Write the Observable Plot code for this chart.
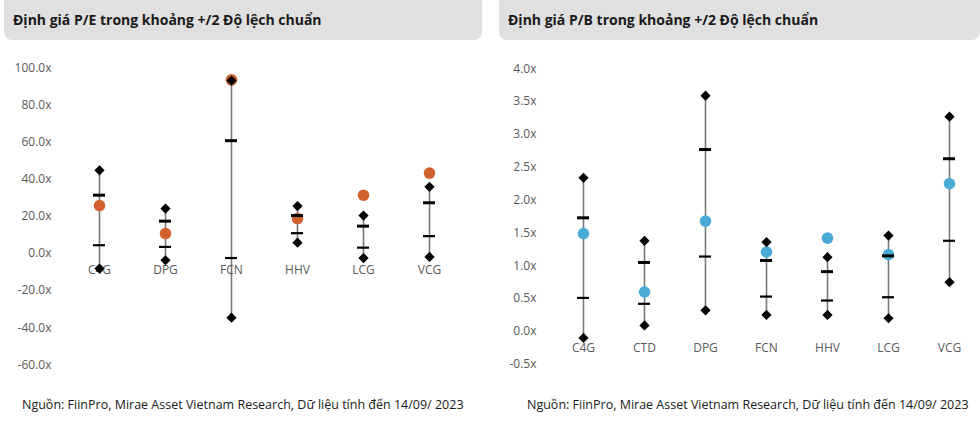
<!DOCTYPE html>
<html>
<head>
<meta charset="utf-8">
<script src="https://cdn.jsdelivr.net/npm/d3@7"></script>
<script src="https://cdn.jsdelivr.net/npm/@observablehq/plot@0.6"></script>
<style>
  html, body { margin: 0; padding: 0; background: #fff; }
  body { width: 980px; height: 425px; position: relative; overflow: hidden; font-family: "Open Sans", sans-serif; }
  .title { position: absolute; top: 0; height: 40px; background: #e0e0e0; border-radius: 0 0 8px 8px;
           font-weight: 700; font-size: 14px; color: #1a1a1a; line-height: 40px; padding-left: 9px; box-sizing: border-box; }
  .chart { position: absolute; top: 45px; }
  .caption { position: absolute; top: 396px; font-size: 12.5px; color: #1a1a1a; white-space: nowrap; }
</style>
</head>
<body>
<div class="title" style="left:4px;width:478px;">Định giá P/E trong khoảng +/2 Độ lệch chuẩn</div>
<div class="title" style="left:499px;width:481px;">Định giá P/B trong khoảng +/2 Độ lệch chuẩn</div>
<div class="chart" id="pe" style="left:0px;"></div>
<div class="chart" id="pb" style="left:490px;"></div>
<div class="caption" id="cap1" style="left:22px;">Nguồn: FiinPro, Mirae Asset Vietnam Research, Dữ liệu tính đến 14/09/ 2023</div>
<div class="caption" id="cap2" style="left:527px;">Nguồn: FiinPro, Mirae Asset Vietnam Research, Dữ liệu tính đến 14/09/ 2023</div>
<script>
// ---- P/E data ----
const peTickers = ["C4G", "DPG", "FCN", "HHV", "LCG", "VCG"];
const peCurrent = [25.9, 10.8, 93.7, 18.9, 31.5, 43.4];
const pePlus2 = [44.9, 24.3, 93.3, 25.6, 20.5, 36.0];
const pePlus1 = [31.5, 17.5, 60.9, 20.5, 14.8, 27.4];
const peMinus1 = [4.5, 3.6, -2.4, 11.0, 3.2, 9.4];
const peMinus2 = [-8.1, -3.6, -34.6, 5.9, -2.4, -1.8];
const peTicks = [-60, -40, -20, 0, 20, 40, 60, 80, 100];

// ---- P/B data ----
const pbTickers = ["C4G", "CTD", "DPG", "FCN", "HHV", "LCG", "VCG"];
const pbCurrent = [1.49, 0.60, 1.68, 1.21, 1.42, 1.17, 2.25];
const pbPlus2 = [2.34, 1.38, 3.59, 1.36, 1.13, 1.46, 3.27];
const pbPlus1 = [1.73, 1.05, 2.77, 1.08, 0.91, 1.15, 2.63];
const pbMinus1 = [0.51, 0.42, 1.14, 0.53, 0.47, 0.52, 1.38];
const pbMinus2 = [-0.10, 0.09, 0.32, 0.25, 0.25, 0.20, 0.75];
const pbTicks = [-0.5, 0, 0.5, 1, 1.5, 2, 2.5, 3, 3.5, 4];

function rows(t, cur, p2, p1, m1, m2) {
  return t.map((k, i) => ({k, cur: cur[i], p2: p2[i], p1: p1[i], m1: m1[i], m2: m2[i]}));
}

function chart(data, opts) {
  return Plot.plot({
    width: 490,
    height: 340,
    marginTop: opts.mt,
    marginBottom: opts.mb,
    marginLeft: opts.ml,
    marginRight: 0,
    style: {fontFamily: "Open Sans, sans-serif", fontSize: "12px", color: "#595959", background: "transparent", overflow: "visible"},
    x: {type: "band", domain: data.map(d => d.k), range: opts.xr, paddingInner: opts.p, paddingOuter: opts.p / 2, axis: null},
    y: {domain: opts.yd, label: null},
    marks: [
      Plot.axisY({ticks: opts.ticks, tickFormat: d => d.toFixed(1) + "x", tickSize: 0, tickPadding: 4, label: null, fontSize: 12, fill: "#595959"}),
      Plot.ruleX(data, {x: "k", y1: "m2", y2: "p2", stroke: "#7a7a7a", strokeWidth: 1.6}),
      Plot.text(data, {x: "k", y: 0, text: "k", dy: 17, fill: "#595959", fontSize: 12}),
      Plot.dot(data, {x: "k", y: "cur", r: 5.8, fill: opts.color, stroke: null}),
      Plot.tickY(data, {x: "k", y: "p1", stroke: "#000", strokeWidth: 3}),
      Plot.tickY(data, {x: "k", y: "m1", stroke: "#000", strokeWidth: 2.2}),
      Plot.dot(data, {x: "k", y: "p2", symbol: "diamond2", r: 4.6, fill: "#000", stroke: null}),
      Plot.dot(data, {x: "k", y: "m2", symbol: "diamond2", r: 4.6, fill: "#000", stroke: null})
    ]
  });
}

const peData = rows(peTickers, peCurrent, pePlus2, pePlus1, peMinus1, peMinus2);
const pbData = rows(pbTickers, pbCurrent, pbPlus2, pbPlus1, pbMinus1, pbMinus2);

document.getElementById("pe").appendChild(chart(peData, {
  mt: 22.7, mb: 20.7, ml: 55, xr: [63.3, 464.1], p: 1 - 12 / 66.8,
  yd: [-60, 100], ticks: peTicks, color: "#D2622D"
}));
document.getElementById("pb").appendChild(chart(pbData, {
  mt: 23.3, mb: 21.3, ml: 50, xr: [59, 492.65], p: 1 - 12 / 61.95,
  yd: [-0.5, 4], ticks: pbTicks, color: "#4AACD6"
}));
</script>
</body>
</html>
